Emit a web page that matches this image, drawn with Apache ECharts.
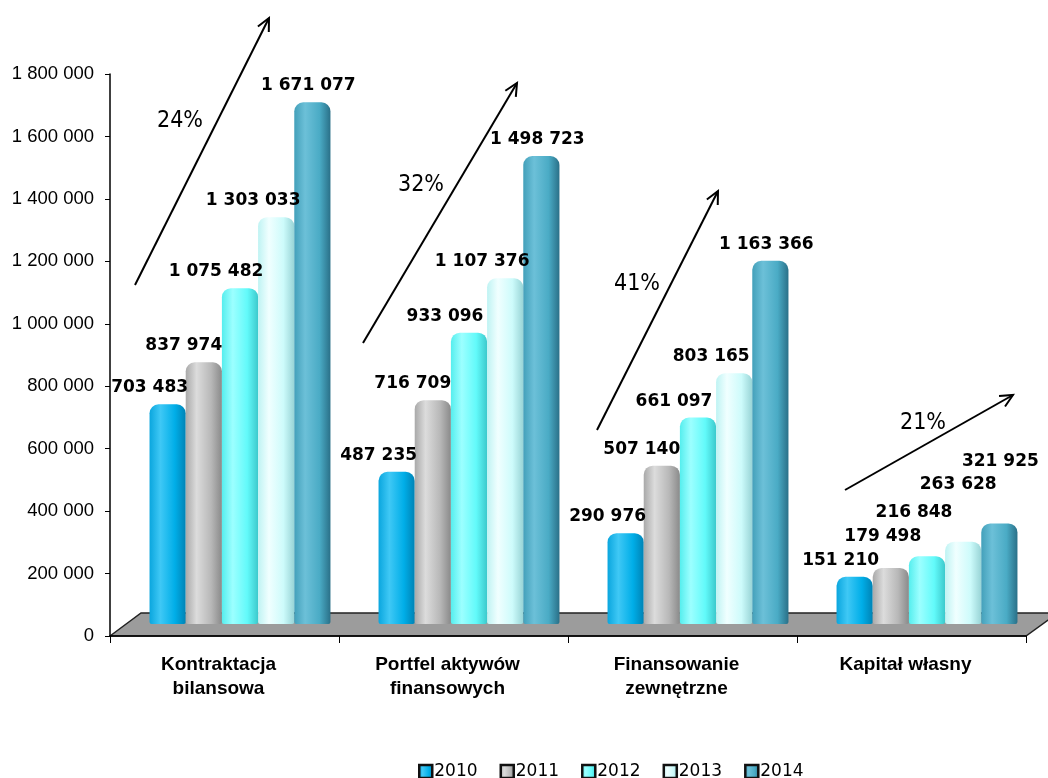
<!DOCTYPE html>
<html>
<head>
<meta charset="utf-8">
<script src="https://cdn.jsdelivr.net/npm/echarts/dist/echarts.min.js"></script>
<style>
html,body{margin:0;padding:0;background:#fff;}
#chart{width:1048px;height:778px;}
</style>
</head>
<body>
<div id="chart"></div>
<script>
// ---- data ----
const categories = ['Kontraktacja\nbilansowa', 'Portfel aktywów\nfinansowych', 'Finansowanie\nzewnętrzne', 'Kapitał własny'];
const years = ['2010', '2011', '2012', '2013', '2014'];
const v2010 = [703483, 487235, 290976, 151210];
const v2011 = [837974, 716709, 507140, 179498];
const v2012 = [1075482, 933096, 661097, 216848];
const v2013 = [1303033, 1107376, 803165, 263628];
const v2014 = [1671077, 1498723, 1163366, 321925];
const growthLabels = ['24%', '32%', '41%', '21%'];
const yMin = 0, yMax = 1800000, yInterval = 200000;

// ---- styling / layout ----
const palettes = [
  ['#0aa6de', '#3fc8f5', '#00aee8', '#0083b5'],
  ['#a9a9a9', '#dcdcdc', '#b8b8b8', '#8a8a8a'],
  ['#55eeee', '#9cffff', '#62fafa', '#3cc9cc'],
  ['#bff3f3', '#f0ffff', '#cdfbfb', '#98d4d6'],
  ['#43a0ba', '#6cc0d8', '#4aabc5', '#2a7088']
];
const labelDx = [-18, -20, -24, -23, -4];
// extra label nudges for the low "Kapitał własny" group (labels stacked like in the original)
const lastGroupNudge = [[4, 0], [12, -15], [11, -27], [18, -41], [5, -45]];

function grad(p) {
  return new echarts.graphic.LinearGradient(0, 0, 1, 0, [
    {offset: 0, color: p[0]},
    {offset: 0.3, color: p[1]},
    {offset: 0.7, color: p[2]},
    {offset: 1, color: p[3]}
  ]);
}
function fmt(v) {
  return String(v).replace(/\B(?=(\d{3})+(?!\d))/g, ' ');
}

const seriesData = [v2010, v2011, v2012, v2013, v2014];
const series = years.map((y, i) => ({
  name: y,
  type: 'bar',
  xAxisIndex: 1,
  yAxisIndex: 1,
  barGap: '0%',
  barCategoryGap: '21%',
  z: 3,
  data: seriesData[i],
  itemStyle: {color: grad(palettes[i]), borderRadius: [9, 9, 2, 2]},
  label: {
    show: true,
    position: 'top',
    distance: 8,
    formatter: p => fmt(p.value),
    fontFamily: 'DejaVu Sans',
    fontWeight: 'bold',
    fontSize: 17,
    color: '#000'
  },
  labelLayout: function (params) {
    if (params.dataIndex === categories.length - 1) {
      return {dx: labelDx[i] + lastGroupNudge[i][0], dy: lastGroupNudge[i][1]};
    }
    return {dx: labelDx[i], dy: 0};
  }
}));

const chart = echarts.init(document.getElementById('chart'), null, {renderer: 'canvas'});

// arrows (annotation overlay)
const arrows = [
  {from: [135, 285], to: [269, 18], text: [180, 121]},
  {from: [363, 343], to: [517, 83], text: [421, 185]},
  {from: [597, 430], to: [718, 191], text: [637, 284]},
  {from: [845, 490], to: [1013, 395], text: [923, 423]}
];
const graphics = [];
// floor
graphics.push({
  type: 'polygon', z: 1, silent: true,
  shape: {points: [[110, 636], [141, 613], [1058, 613], [1026, 636]]},
  style: {fill: '#9c9c9c', stroke: '#222', lineWidth: 1.5}
});
arrows.forEach((a, i) => {
  const [x1, y1] = a.from, [x2, y2] = a.to;
  const ang = Math.atan2(y2 - y1, x2 - x1);
  const L = 14, w = 0.45;
  const h1 = [x2 - L * Math.cos(ang - w), y2 - L * Math.sin(ang - w)];
  const h2 = [x2 - L * Math.cos(ang + w), y2 - L * Math.sin(ang + w)];
  graphics.push({type: 'line', z: 10, silent: true, shape: {x1, y1, x2, y2}, style: {stroke: '#000', lineWidth: 2}});
  graphics.push({type: 'polyline', z: 10, silent: true, shape: {points: [h1, [x2, y2], h2]}, style: {stroke: '#000', lineWidth: 2, fill: null}});
  graphics.push({type: 'text', z: 10, silent: true, x: a.text[0], y: a.text[1],
    style: {text: growthLabels[i], fill: '#000', font: '23px "DejaVu Sans Condensed"', textAlign: 'center', textVerticalAlign: 'middle'}});
});

chart.setOption({
  animation: false,
  backgroundColor: '#fff',
  grid: [
    {left: 110, right: 22, top: 74, bottom: 142},
    {left: 125.5, right: 6.5, top: 62, bottom: 154}
  ],
  legend: {
    data: years,
    left: 413,
    top: 758,
    icon: 'rect',
    itemWidth: 13,
    itemHeight: 13,
    itemGap: 22,
    textStyle: {fontFamily: 'DejaVu Sans', fontSize: 17, color: '#000', padding: [0, 0, 0, -3]},
    itemStyle: {borderColor: '#111', borderWidth: 2.5}
  },
  xAxis: [
    {
      type: 'category', gridIndex: 0, data: categories, z: 5,
      axisLine: {lineStyle: {color: '#000', width: 1.5}},
      axisTick: {show: true, length: 7, lineStyle: {color: '#000'}},
      axisLabel: {fontFamily: 'Liberation Sans', fontWeight: 'bold', fontSize: 19, lineHeight: 24, color: '#000', margin: 17, padding: [0, 12, 0, 0]}
    },
    {type: 'category', gridIndex: 1, data: categories, show: false}
  ],
  yAxis: [
    {
      type: 'value', gridIndex: 0, min: yMin, max: yMax, interval: yInterval, z: 5,
      axisLine: {show: true, lineStyle: {color: '#000', width: 1.5}},
      axisTick: {show: true, length: 5, lineStyle: {color: '#000'}},
      splitLine: {show: false},
      axisLabel: {fontFamily: 'Liberation Sans', fontSize: 18.5, color: '#000', margin: 16, formatter: v => fmt(v)}
    },
    {type: 'value', gridIndex: 1, min: yMin, max: yMax, interval: yInterval, show: false, splitLine: {show: false}}
  ],
  graphic: graphics,
  series: series
});
</script>
</body>
</html>
